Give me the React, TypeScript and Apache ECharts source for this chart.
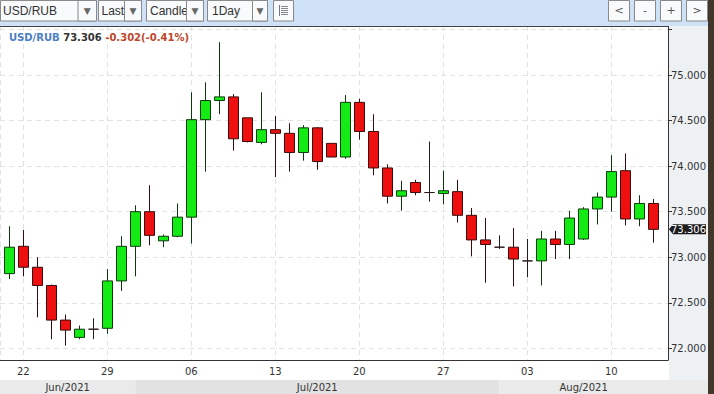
import React, { useEffect, useRef } from 'react';
import * as echarts from 'echarts';

// ---- header values ----
const symbolName = 'USD/RUB';
const lastPrice = 73.306;
const priceChange = -0.302;
const priceChangePct = -0.41;

// ---- toolbar ----
const toolbarItems = ['USD/RUB', 'Last', 'Candle', '1Day'];
const navButtons = ['<', '-', '+', '>'];

// ---- x axis ----
const tickLabels = ['22', '29', '06', '13', '20', '27', '03', '10'];
const firstTickCandle = 1; // candle index carrying the first tick label
const candlesPerTick = 6;
const months = ['Jun/2021', 'Jul/2021', 'Aug/2021'];
const monthStartCandle = [-10, 9, 35];

// ---- y axis ----
const yTickLabels = ['72.000', '72.500', '73.000', '73.500', '74.000', '74.500', '75.000'];

// visible axis ranges (x in candles relative to first tick)
const xMin = -1.664;
const xMax = 46.05;
const yMin = 71.872;
const yMax = 75.538;

// ---- candles (open, close, low, high) ----
const opens = [
  72.82, 73.12, 72.89, 72.69, 72.31, 72.12, 72.21, 72.22, 72.74, 73.12,
  73.50, 73.18, 73.23, 73.44, 74.51, 74.72, 74.76, 74.53, 74.26, 74.40,
  74.36, 74.15, 74.42, 74.25, 74.10, 74.70, 74.38, 73.98, 73.67, 73.82,
  73.71, 73.70, 73.72, 73.46, 73.19, 73.11, 73.11, 72.96, 72.96, 73.20,
  73.14, 73.20, 73.53, 73.66, 73.95, 73.42, 73.59,
];
const closes = [
  73.11, 72.89, 72.69, 72.31, 72.20, 72.21, 72.21, 72.74, 73.12, 73.50,
  73.24, 73.23, 73.44, 74.51, 74.72, 74.76, 74.30, 74.27, 74.40, 74.36,
  74.15, 74.42, 74.05, 74.10, 74.70, 74.38, 73.98, 73.67, 73.73, 73.71,
  73.71, 73.73, 73.46, 73.19, 73.14, 73.11, 72.98, 72.96, 73.20, 73.14,
  73.43, 73.53, 73.66, 73.94, 73.42, 73.59, 73.306,
];
const lows = [
  72.76, 72.79, 72.34, 72.10, 72.03, 72.10, 72.10, 72.16, 72.63, 72.79,
  73.13, 73.11, 73.22, 73.15, 73.94, 74.57, 74.17, 74.26, 74.24, 73.88,
  73.94, 74.06, 73.96, 74.10, 74.08, 74.29, 73.90, 73.59, 73.51, 73.68,
  73.61, 73.58, 73.38, 73.01, 72.72, 73.09, 72.68, 72.78, 72.69, 72.98,
  72.98, 73.19, 73.36, 73.50, 73.35, 73.34, 73.16,
];
const highs = [
  73.34, 73.30, 73.00, 72.70, 72.37, 72.25, 72.33, 72.87, 73.23, 73.57,
  73.79, 73.25, 73.59, 74.81, 74.92, 75.36, 74.79, 74.53, 74.81, 74.55,
  74.47, 74.45, 74.43, 74.25, 74.78, 74.74, 74.57, 74.02, 73.84, 73.85,
  74.27, 73.95, 73.85, 73.54, 73.43, 73.24, 73.32, 73.20, 73.29, 73.29,
  73.51, 73.55, 73.71, 74.12, 74.14, 73.68, 73.64,
];

const FONT = 'DejaVu Sans';
const UI_FONT = 'Liberation Sans';

export default function App() {
  const ref = useRef<HTMLDivElement>(null);

  useEffect(() => {
    const el = ref.current;
    if (!el) return;
    const chart = echarts.init(el, null, { renderer: 'svg' });
    const data = opens.map((o, i) => [i - firstTickCandle, o, closes[i], lows[i], highs[i]]);
    const splitStyle = { color: '#e2e2e2', type: [5, 4] as any, width: 1 };

    chart.setOption({
      animation: false,
      backgroundColor: '#ffffff',
      grid: { left: 0, right: 46, top: 26, bottom: 34, containLabel: false },
      xAxis: {
        type: 'value',
        min: xMin,
        max: xMax,
        splitNumber: 8,
        minInterval: candlesPerTick,
        maxInterval: candlesPerTick,
        axisLine: { show: true, onZero: false, lineStyle: { color: '#333333', width: 1 } },
        axisTick: { show: false },
        axisLabel: {
          color: '#333333',
          fontSize: 10,
          fontFamily: FONT,
          margin: 6,
          showMinLabel: false,
          showMaxLabel: false,
          formatter: (v: number) => {
            const k = v / candlesPerTick;
            const r = Math.round(k);
            if (Math.abs(k - r) < 1e-6 && r >= 0 && r < tickLabels.length) return tickLabels[r];
            return '';
          },
        },
        splitLine: { show: true, lineStyle: splitStyle },
      },
      yAxis: {
        type: 'value',
        position: 'right',
        min: yMin,
        max: yMax,
        splitNumber: 7,
        minInterval: 0.5,
        maxInterval: 0.5,
        axisLine: { show: true, onZero: false, lineStyle: { color: '#333333', width: 1 } },
        axisTick: { show: true, length: 4, lineStyle: { color: '#333333' } },
        axisLabel: {
          color: '#333333',
          fontSize: 10,
          fontFamily: FONT,
          margin: 3,
          showMinLabel: false,
          showMaxLabel: false,
          formatter: (v: number) => {
            const s = v.toFixed(3);
            return yTickLabels.indexOf(s) >= 0 ? s : '';
          },
        },
        splitLine: { show: true, lineStyle: splitStyle },
      },
      series: [
        {
          type: 'candlestick',
          data,
          barWidth: 11,
          itemStyle: {
            color: '#14ea14',
            color0: '#ee1010',
            borderColor: '#0b3a0b',
            borderColor0: '#3a0b0b',
            borderColorDoji: '#2a1a1a',
            borderWidth: 1,
          },
        },
      ],
    });

    const toPx = (x: number, y: number) => chart.convertToPixel({ gridIndex: 0 }, [x, y]) as number[];
    const [rightX, bottomY] = toPx(xMax, yMin);
    const topY = toPx(xMax, yMax)[1];
    const graphics: any[] = [];

    // right panel and edge strip (below axis labels)
    graphics.push({ type: 'rect', z: -10, shape: { x: rightX + 1, y: topY, width: 708 - rightX - 1, height: 394 - topY }, style: { fill: '#eef1f4' } });
    graphics.push({ type: 'rect', z: 100, shape: { x: 708, y: 0, width: 6, height: 394 }, style: { fill: '#43372b' } });

    // toolbar
    graphics.push({ type: 'rect', z: 10, shape: { x: 0, y: 0, width: 708, height: topY }, style: { fill: '#cfe1f6' } });
    graphics.push({ type: 'line', z: 11, shape: { x1: 0, y1: topY + 0.5, x2: rightX + 0.5, y2: topY + 0.5 }, style: { stroke: '#444444', lineWidth: 1 } });
    const boxes = [
      { x: 0.5, w: 96, arrow: 78, tx: 3 },
      { x: 98.5, w: 43, arrow: 124.5, tx: 101.5 },
      { x: 146.5, w: 57, arrow: 186.5, tx: 150 },
      { x: 207.5, w: 60, arrow: 252.5, tx: 212 },
    ];
    boxes.forEach((b, i) => {
      graphics.push({ type: 'rect', z: 12, shape: { x: b.x, y: 0.5, width: b.w, height: 20.5 }, style: { fill: '#f8fafc', stroke: '#8a8a8a', lineWidth: 1 } });
      graphics.push({ type: 'text', z: 13, style: { text: toolbarItems[i], x: b.tx, y: 11, font: `12px "${UI_FONT}"`, fill: '#333333', textAlign: 'left', textVerticalAlign: 'middle' } });
      graphics.push({ type: 'rect', z: 14, shape: { x: b.arrow, y: 0.5, width: b.x + b.w - b.arrow, height: 20.5 }, style: { fill: '#f8fafc', stroke: '#8a8a8a', lineWidth: 1 } });
      graphics.push({ type: 'text', z: 15, style: { text: '▼', x: b.arrow + (b.x + b.w - b.arrow) / 2, y: 11, font: `9px "${FONT}"`, fill: '#666666', textAlign: 'center', textVerticalAlign: 'middle' } });
    });
    // list icon box
    graphics.push({ type: 'rect', z: 12, shape: { x: 273.5, y: 0.5, width: 20, height: 20.5 }, style: { fill: '#f8fafc', stroke: '#8a8a8a', lineWidth: 1 } });
    graphics.push({ type: 'line', z: 13, shape: { x1: 279.5, y1: 5, x2: 279.5, y2: 16 }, style: { stroke: '#777777', lineWidth: 1 } });
    [6.5, 8.5, 10.5, 12.5, 14.5].forEach((yy) => {
      graphics.push({ type: 'line', z: 13, shape: { x1: 281, y1: yy, x2: 288, y2: yy }, style: { stroke: '#888888', lineWidth: 1 } });
    });
    // nav buttons
    navButtons.forEach((t, i) => {
      const bx = 608.5 + i * 26;
      graphics.push({ type: 'rect', z: 12, shape: { x: bx, y: 0.5, width: 21, height: 20.5 }, style: { fill: '#f8fafc', stroke: '#8a8a8a', lineWidth: 1 } });
      graphics.push({ type: 'text', z: 13, style: { text: t, x: bx + 10.5, y: 10.5, font: `11px "${FONT}"`, fill: '#555555', textAlign: 'center', textVerticalAlign: 'middle' } });
    });

    // header
    const chg = `${priceChange.toFixed(3)}(${priceChangePct.toFixed(2)}%)`;
    graphics.push({
      type: 'text', z: 20,
      style: {
        text: `{a|${symbolName}} {b|${lastPrice.toFixed(3)}} {c|${chg}}`,
        x: 9, y: 37, textVerticalAlign: 'middle',
        font: `bold 10px "${FONT}"`,
        rich: {
          a: { fill: '#4a7ec8', fontWeight: 'bold', fontSize: 10, fontFamily: FONT },
          b: { fill: '#333333', fontWeight: 'bold', fontSize: 10, fontFamily: FONT },
          c: { fill: '#c0452a', fontWeight: 'bold', fontSize: 10, fontFamily: FONT },
        },
      },
    });

    // month bar
    const barTop = bottomY + 20;
    const monthColors = ['#eaeaea', '#e2e2e2', '#eaeaea'];
    months.forEach((m, i) => {
      const s = Math.max(0, toPx(monthStartCandle[i] - firstTickCandle, yMin)[0]);
      const e = i < months.length - 1 ? toPx(monthStartCandle[i + 1] - firstTickCandle, yMin)[0] : rightX;
      const eDraw = i < months.length - 1 ? e : 708;
      graphics.push({ type: 'rect', z: 5, shape: { x: s, y: barTop, width: eDraw - s, height: 394 - barTop }, style: { fill: monthColors[i] } });
      graphics.push({ type: 'text', z: 6, style: { text: m, x: (s + e) / 2, y: barTop + 7.5, font: `10px "${FONT}"`, fill: '#333333', textAlign: 'center', textVerticalAlign: 'middle' } });
    });

    // last price tag
    const py = toPx(xMax, lastPrice)[1];
    graphics.push({
      type: 'polygon', z: 100,
      shape: { points: [[rightX + 1, py], [rightX + 5, py - 5], [706, py - 5], [706, py + 5], [rightX + 5, py + 5]] },
      style: { fill: '#1c1c1c' },
    });
    graphics.push({ type: 'text', z: 101, style: { text: lastPrice.toFixed(3), x: 706, y: py, font: `10px "${FONT}"`, fill: '#ffffff', textAlign: 'right', textVerticalAlign: 'middle' } });

    chart.setOption({ graphic: graphics });

    return () => chart.dispose();
  }, []);

  return <div ref={ref} style={{ position: 'absolute', left: 0, top: 0, width: 714, height: 394 }} />;
}
